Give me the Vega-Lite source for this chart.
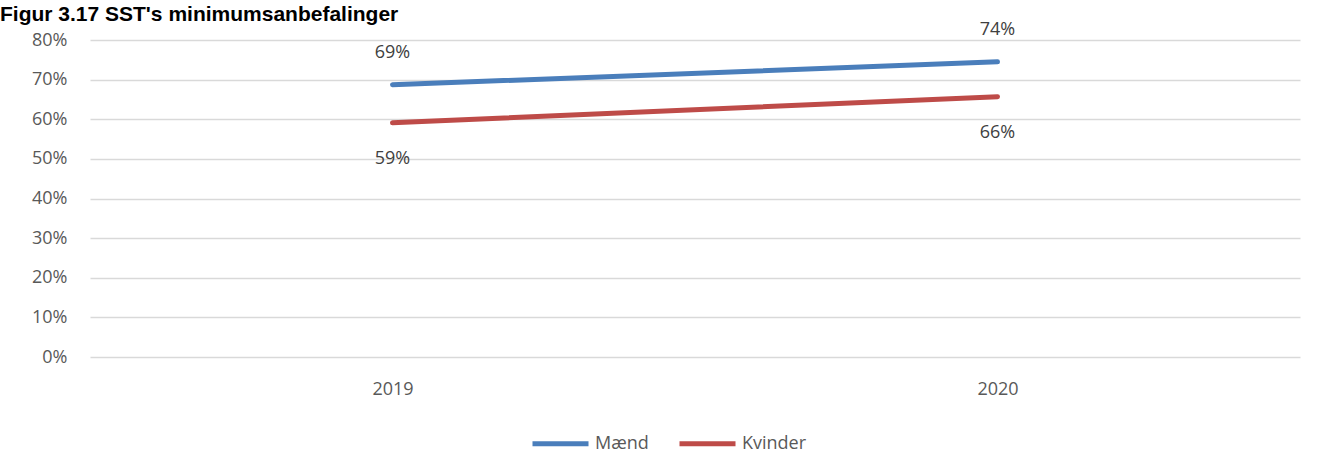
{
  "$schema": "https://vega.github.io/schema/vega-lite/v6.json",
  "width": 1210,
  "height": 317,
  "autosize": {"type": "none"},
  "padding": {"left": 90, "top": 40, "right": 17, "bottom": 115},
  "background": "white",
  "title": {
    "text": "Figur 3.17 SST's minimumsanbefalinger",
    "anchor": "start",
    "frame": "group",
    "dx": -90,
    "dy": 4,
    "offset": 0,
    "font": "Liberation Sans",
    "fontSize": 21,
    "fontWeight": "bold",
    "color": "#000000"
  },
  "config": {
    "view": {"stroke": null},
    "font": "Open Sans"
  },
  "data": {
    "values": [
      {"year": "2019", "serie": "Mænd", "value": 0.687, "label": "69%"},
      {"year": "2020", "serie": "Mænd", "value": 0.745, "label": "74%"},
      {"year": "2019", "serie": "Kvinder", "value": 0.591, "label": "59%"},
      {"year": "2020", "serie": "Kvinder", "value": 0.657, "label": "66%"}
    ]
  },
  "encoding": {
    "x": {
      "field": "year",
      "type": "ordinal",
      "scale": {"type": "point", "padding": 0.5},
      "axis": {
        "title": null,
        "labelAngle": 0,
        "domain": false,
        "ticks": false,
        "grid": false,
        "labelPadding": 23,
        "labelFontSize": 18,
        "labelColor": "#595959",
        "labelFont": "Open Sans"
      }
    },
    "y": {
      "field": "value",
      "type": "quantitative",
      "scale": {"domain": [0, 0.8], "nice": false},
      "axis": {
        "title": null,
        "format": ".0%",
        "values": [0, 0.1, 0.2, 0.3, 0.4, 0.5, 0.6, 0.7, 0.8],
        "domain": false,
        "ticks": false,
        "grid": true,
        "gridColor": "#d9d9d9",
        "gridWidth": 1.5,
        "labelPadding": 23,
        "labelFontSize": 18,
        "labelColor": "#595959",
        "labelFont": "Open Sans"
      }
    },
    "color": {
      "field": "serie",
      "type": "nominal",
      "scale": {"domain": ["Mænd", "Kvinder"], "range": ["#4a7ebb", "#be4b48"]},
      "legend": {
        "title": null,
        "orient": "none",
        "direction": "horizontal",
        "legendX": 440,
        "legendY": 373,
        "symbolType": "stroke",
        "symbolSize": 3136,
        "symbolStrokeWidth": 5,
        "labelFontSize": 18,
        "labelColor": "#595959",
        "labelFont": "Open Sans",
        "labelOffset": 4,
        "columnPadding": 20
      }
    }
  },
  "layer": [
    {
      "mark": {"type": "line", "strokeWidth": 5, "strokeCap": "round"}
    },
    {
      "transform": [{"filter": "datum.serie == 'Mænd'"}],
      "mark": {"type": "text", "dy": -32, "fontSize": 18, "font": "Open Sans"},
      "encoding": {"text": {"field": "label"}, "color": {"value": "#404040"}}
    },
    {
      "transform": [{"filter": "datum.serie == 'Kvinder'"}],
      "mark": {"type": "text", "dy": 36, "fontSize": 18, "font": "Open Sans"},
      "encoding": {"text": {"field": "label"}, "color": {"value": "#404040"}}
    }
  ]
}
